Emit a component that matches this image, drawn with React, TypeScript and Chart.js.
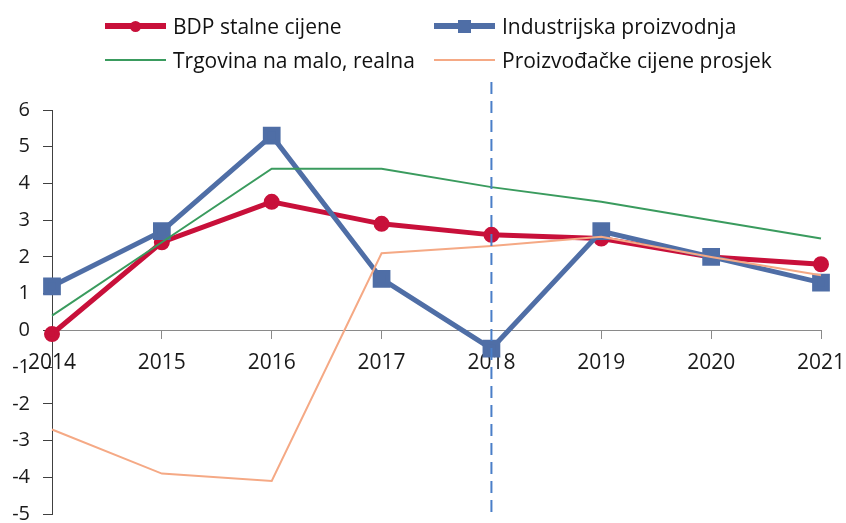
import React, { useEffect, useRef } from "react";
import { Chart, registerables } from "chart.js";

Chart.register(...registerables);

// ---- data ----
const years = ["2014", "2015", "2016", "2017", "2018", "2019", "2020", "2021"];
const bdp = [-0.1, 2.4, 3.5, 2.9, 2.6, 2.5, 2.0, 1.8];
const industrija = [1.2, 2.7, 5.3, 1.4, -0.5, 2.7, 2.0, 1.3];
const trgovina = [0.4, 2.4, 4.4, 4.4, 3.9, 3.5, 3.0, 2.5];
const cijene = [-2.7, -3.9, -4.1, 2.1, 2.3, 2.55, 2.0, 1.5];
const seriesNames = [
  "BDP stalne cijene",
  "Industrijska proizvodnja",
  "Trgovina na malo, realna",
  "Proizvođačke cijene prosjek",
];
const yMin = -5;
const yMax = 6;
const markerYear = "2018";

const RED = "#C8103A";
const BLUE = "#4F6EA6";
const GREEN = "#3A9B5E";
const ORANGE = "#F5A985";
const DASH = "#4A7EC8";
const FONT = "'Open Sans', 'Noto Sans', sans-serif";

const markerLine = {
  id: "markerLine",
  afterDatasetsDraw(chart: any) {
    const ctx = chart.ctx;
    const x = chart.scales.x.getPixelForValue(years.indexOf(markerYear));
    const { top, bottom } = chart.chartArea;
    ctx.save();
    ctx.setLineDash([12, 7]);
    ctx.strokeStyle = DASH;
    ctx.lineWidth = 2;
    ctx.beginPath();
    ctx.moveTo(x, top - 28);
    ctx.lineTo(x, bottom + 5);
    ctx.stroke();
    ctx.restore();
  },
};

function LegendItem(props: { x: number; y: number; color: string; width: number; marker?: "circle" | "square"; label: string }) {
  const { x, y, color, width, marker, label } = props;
  return (
    <div style={{ position: "absolute", left: x, top: y - 15, height: 30, display: "flex", alignItems: "center" }}>
      <div style={{ position: "relative", width: 61, height: 30 }}>
        <div style={{ position: "absolute", left: 0, right: 0, top: 15 - width / 2, height: width, background: color }} />
        {marker === "circle" && (
          <div style={{ position: "absolute", left: 25, top: 10, width: 11, height: 11, borderRadius: "50%", background: color }} />
        )}
        {marker === "square" && (
          <div style={{ position: "absolute", left: 24, top: 9, width: 13, height: 13, background: color }} />
        )}
      </div>
      <span style={{ marginLeft: 7, fontFamily: FONT, fontSize: 21, color: "#111", whiteSpace: "nowrap" }}>{label}</span>
    </div>
  );
}

export default function App() {
  const ref = useRef<HTMLCanvasElement | null>(null);
  useEffect(() => {
    if (!ref.current) return;
    const chart = new Chart(ref.current, {
      type: "line",
      data: {
        labels: years,
        datasets: [
          {
            label: seriesNames[0],
            data: bdp,
            borderColor: RED,
            backgroundColor: RED,
            borderWidth: 5,
            pointStyle: "circle",
            pointRadius: 5.5,
            tension: 0,
            order: 4,
            clip: false as any,
          },
          {
            label: seriesNames[1],
            data: industrija,
            borderColor: BLUE,
            backgroundColor: BLUE,
            borderWidth: 5,
            pointStyle: "rect",
            pointRadius: 9,
            tension: 0,
            order: 3,
            clip: false as any,
          },
          {
            label: seriesNames[2],
            data: trgovina,
            borderColor: GREEN,
            backgroundColor: GREEN,
            borderWidth: 2,
            pointRadius: 0,
            tension: 0,
            order: 2,
            clip: false as any,
          },
          {
            label: seriesNames[3],
            data: cijene,
            borderColor: ORANGE,
            backgroundColor: ORANGE,
            borderWidth: 2,
            pointRadius: 0,
            tension: 0,
            order: 1,
            clip: false as any,
          },
        ],
      },
      options: {
        responsive: false,
        animation: false,
        layout: { padding: { top: 110, right: 25, bottom: 5, left: 0 } },
        plugins: { legend: { display: false }, tooltip: { enabled: false } },
        scales: {
          x: {
            type: "category",
            position: { y: 0 } as any,
            offset: false,
            grid: { drawOnChartArea: false, tickLength: 8, color: "#8a8a8a", offset: false },
            border: { color: "#8a8a8a", width: 1 },
            ticks: { font: { family: FONT, size: 21 }, color: "#1a1a1a", padding: 12, maxRotation: 0, autoSkip: false },
            afterFit: (s: any) => {
              s.paddingLeft = 0;
              s.paddingRight = 0;
              s.paddingTop = 0;
              s.paddingBottom = 0;
            },
          },
          y: {
            min: yMin,
            max: yMax,
            grid: { drawOnChartArea: false, tickLength: 9, color: "#404040" },
            border: { color: "#404040", width: 1 },
            ticks: { stepSize: 1, font: { family: FONT, size: 20 }, color: "#1a1a1a", padding: 13 },
            afterFit: (s: any) => {
              s.width = 52;
              s.paddingTop = 0;
              s.paddingBottom = 0;
            },
          },
        },
      },
      plugins: [markerLine],
    });
    return () => chart.destroy();
  }, []);

  return (
    <div style={{ position: "absolute", left: 0, top: 0, width: 846, height: 523, background: "#fff", overflow: "hidden" }}>
      <canvas ref={ref} width={846} height={528} style={{ position: "absolute", left: 0, top: 0 }} />
      <LegendItem x={105} y={26} color={RED} width={6} marker="circle" label={seriesNames[0]} />
      <LegendItem x={434} y={26} color={BLUE} width={6} marker="square" label={seriesNames[1]} />
      <LegendItem x={105} y={60} color={GREEN} width={2} label={seriesNames[2]} />
      <LegendItem x={434} y={60} color={ORANGE} width={2} label={seriesNames[3]} />
    </div>
  );
}
